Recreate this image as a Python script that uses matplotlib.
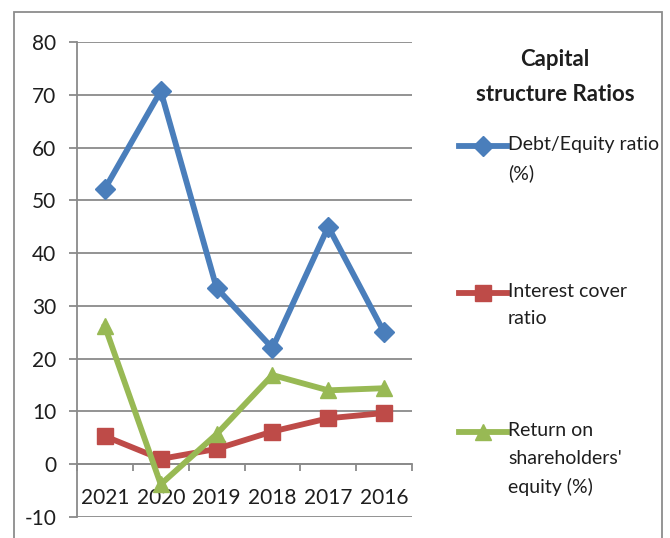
import matplotlib
matplotlib.use("Agg")
import matplotlib.pyplot as plt
from matplotlib.lines import Line2D
from matplotlib.patches import Rectangle
import numpy as np

plt.rcParams['font.family'] = ['Lato', 'DejaVu Sans']

years = ["2021", "2020", "2019", "2018", "2017", "2016"]
debt_equity = [52.2, 70.7, 33.4, 22.0, 45.0, 25.0]
interest_cover = [5.3, 1.0, 2.9, 6.2, 8.7, 9.7]
return_equity = [26.1, -3.8, 5.7, 16.9, 14.0, 14.4]
y_ticks = [-10, 0, 10, 20, 30, 40, 50, 60, 70, 80]

legend_title = "Capital\nstructure Ratios"
series = [
    ("Debt/Equity ratio\n(%)", debt_equity, "#4A7EBB", "D", 10),
    ("Interest cover\nratio", interest_cover, "#BE4B48", "s", 11),
    ("Return on\nshareholders'\nequity (%)", return_equity, "#98B954", "^", 12),
]

W, H = 670, 538
fig = plt.figure(figsize=(W / 100, H / 100), dpi=100)
fig.patch.set_facecolor("white")

# outer chart frame
fig.add_artist(Rectangle((14 / W, -0.05), (662 - 14) / W, 1 - 12 / H + 0.05,
                         transform=fig.transFigure, fill=False,
                         edgecolor="#8c8c8c", linewidth=1.3))

ax = fig.add_axes([77 / W, 1 - 517 / H, (412 - 77) / W, (517 - 42) / H])
ax.set_xlim(0, len(years))
ax.set_ylim(-10, 80)

grid_c = "#8a8a8a"
text_c = "#1e1e1e"
for yv in y_ticks:
    ax.axhline(yv, color=grid_c, linewidth=1.3, zorder=1)

for s in ["top", "right"]:
    ax.spines[s].set_visible(False)
ax.spines["left"].set_color(grid_c)
ax.spines["left"].set_linewidth(1.3)
ax.spines["bottom"].set_position(("data", 0))
ax.spines["bottom"].set_color(grid_c)
ax.spines["bottom"].set_linewidth(1.3)

ax.set_yticks(y_ticks)
ax.set_yticklabels([str(v) for v in y_ticks])
ax.tick_params(axis="y", length=6, width=1.3, color=grid_c, pad=9,
               labelsize=15, labelcolor=text_c)

x = np.arange(len(years)) + 0.5
ax.set_xticks(np.arange(len(years) + 1))
ax.set_xticklabels([])
ax.set_xticks(x, minor=True)
ax.set_xticklabels(years, minor=True)
ax.tick_params(axis="x", which="major", length=5, width=1.3, color=grid_c,
               direction="out")
ax.tick_params(axis="x", which="minor", length=0, pad=17,
               labelsize=15, labelcolor=text_c)

for label, vals, col, mk, ms in series:
    ax.plot(x, vals, color=col, linewidth=4.2, marker=mk, markersize=ms,
            markerfacecolor=col, markeredgecolor=col, zorder=3,
            solid_joinstyle="round", clip_on=False)

# legend title
fig.text(555 / W, 1 - 77 / H, legend_title, ha="center", va="center",
         fontsize=16, fontweight="bold", color=text_c, linespacing=1.8)

# legend entries
entry_y = [146, 293, 432]
for (label, vals, col, mk, ms), ey in zip(series, entry_y):
    yf = 1 - ey / H
    fig.add_artist(Line2D([459 / W, 507 / W], [yf, yf], transform=fig.transFigure,
                          color=col, linewidth=4.2))
    fig.add_artist(Line2D([483 / W], [yf], transform=fig.transFigure,
                          color=col, marker=mk, markersize=ms,
                          markerfacecolor=col, markeredgecolor=col))
    fig.text(508 / W, 1 - (ey - 10) / H, label, ha="left", va="top",
             fontsize=14, color=text_c, linespacing=1.75)

fig.savefig("out.png", dpi=100, facecolor="white")
